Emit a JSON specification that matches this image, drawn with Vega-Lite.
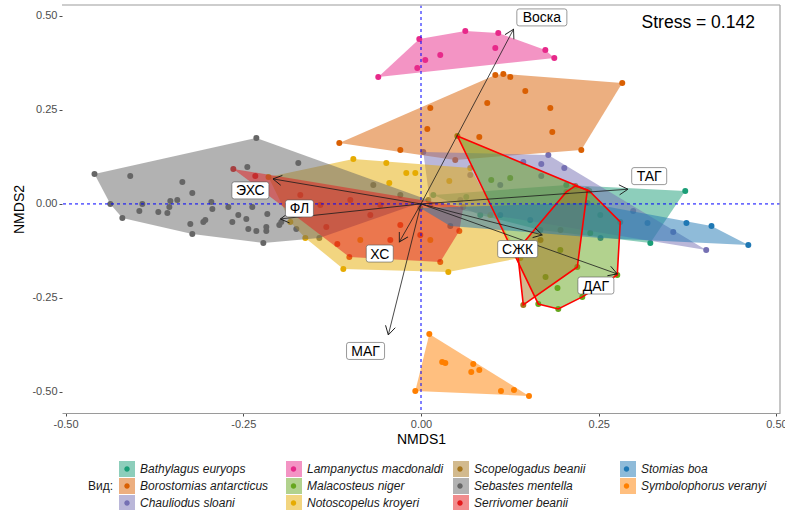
{
  "$schema": "https://vega.github.io/schema/vega-lite/v6.json",
  "width": 718,
  "height": 408,
  "autosize": {"type": "none"},
  "padding": {"left": 62, "top": 5, "right": 5, "bottom": 97},
  "background": "white",
  "config": {
    "view": {"stroke": null},
    "font": "Liberation Sans",
    "axis": {
      "grid": false,
      "labelFont": "Liberation Sans",
      "labelFontSize": 11,
      "labelColor": "#4d4d4d",
      "tickColor": "#4d4d4d",
      "tickSize": 3,
      "titleFont": "Liberation Sans",
      "titleFontSize": 14,
      "titleFontWeight": "normal",
      "titleColor": "#000000"
    }
  },
  "datasets": {
    "pts": [
      {"sp": "Bathylagus euryops", "x": 0.3717, "y": 0.0346, "h": 3},
      {"sp": "Bathylagus euryops", "x": 0.3226, "y": -0.1037, "h": 4},
      {"sp": "Bathylagus euryops", "x": 0.2044, "y": 0.0505, "h": 2},
      {"sp": "Bathylagus euryops", "x": 0.0173, "y": 0.0239, "h": 1},
      {"sp": "Bathylagus euryops", "x": 0.0637, "y": 0.0186},
      {"sp": "Bathylagus euryops", "x": 0.1678, "y": -0.0691, "h": 5},
      {"sp": "Bathylagus euryops", "x": 0.2522, "y": -0.0293},
      {"sp": "Bathylagus euryops", "x": 0.0834, "y": -0.0293, "h": 6},

      {"sp": "Borostomias antarcticus", "x": -0.1149, "y": 0.1622, "h": 1},
      {"sp": "Borostomias antarcticus", "x": 0.1045, "y": 0.3431, "h": 2},
      {"sp": "Borostomias antarcticus", "x": 0.1158, "y": 0.3457, "h": 3},
      {"sp": "Borostomias antarcticus", "x": 0.1256, "y": 0.3378},
      {"sp": "Borostomias antarcticus", "x": 0.2831, "y": 0.3218, "h": 4},
      {"sp": "Borostomias antarcticus", "x": 0.2255, "y": 0.1436, "h": 5},
      {"sp": "Borostomias antarcticus", "x": 0.0131, "y": 0.2553},
      {"sp": "Borostomias antarcticus", "x": 0.0932, "y": 0.2686},
      {"sp": "Borostomias antarcticus", "x": 0.1467, "y": 0.3005},
      {"sp": "Borostomias antarcticus", "x": 0.1819, "y": 0.2553},
      {"sp": "Borostomias antarcticus", "x": 0.1847, "y": 0.1915},
      {"sp": "Borostomias antarcticus", "x": 0.0089, "y": 0.1995},
      {"sp": "Borostomias antarcticus", "x": 0.0820, "y": 0.1782},
      {"sp": "Borostomias antarcticus", "x": 0.0482, "y": 0.1170, "h": 6},
      {"sp": "Borostomias antarcticus", "x": -0.0291, "y": 0.1436},

      {"sp": "Chauliodus sloani", "x": 0.0032, "y": 0.1383, "h": 1},
      {"sp": "Chauliodus sloani", "x": 0.1791, "y": 0.1303, "h": 2},
      {"sp": "Chauliodus sloani", "x": 0.1439, "y": 0.1117},
      {"sp": "Chauliodus sloani", "x": 0.1692, "y": 0.1064},
      {"sp": "Chauliodus sloani", "x": 0.2016, "y": 0.0957},
      {"sp": "Chauliodus sloani", "x": 0.1692, "y": 0.0745},
      {"sp": "Chauliodus sloani", "x": 0.2985, "y": -0.0186},
      {"sp": "Chauliodus sloani", "x": 0.3548, "y": -0.0745},
      {"sp": "Chauliodus sloani", "x": 0.4012, "y": -0.1223, "h": 3},
      {"sp": "Chauliodus sloani", "x": 0.0553, "y": 0.0106},
      {"sp": "Chauliodus sloani", "x": 0.0131, "y": -0.0027, "h": 4},
      {"sp": "Chauliodus sloani", "x": 0.1115, "y": 0.0505},
      {"sp": "Chauliodus sloani", "x": 0.0693, "y": 0.0771},

      {"sp": "Lampanyctus macdonaldi", "x": -0.0601, "y": 0.3378, "h": 1},
      {"sp": "Lampanyctus macdonaldi", "x": -0.0024, "y": 0.4388, "h": 2},
      {"sp": "Lampanyctus macdonaldi", "x": 0.0623, "y": 0.4601, "h": 3},
      {"sp": "Lampanyctus macdonaldi", "x": 0.1087, "y": 0.4548, "h": 4},
      {"sp": "Lampanyctus macdonaldi", "x": 0.1045, "y": 0.4149},
      {"sp": "Lampanyctus macdonaldi", "x": 0.1749, "y": 0.4096, "h": 5},
      {"sp": "Lampanyctus macdonaldi", "x": 0.1875, "y": 0.3883, "h": 6},
      {"sp": "Lampanyctus macdonaldi", "x": 0.0060, "y": 0.3830},
      {"sp": "Lampanyctus macdonaldi", "x": -0.0052, "y": 0.3617},
      {"sp": "Lampanyctus macdonaldi", "x": 0.0271, "y": 0.3963},

      {"sp": "Malacosteus niger", "x": 0.0511, "y": 0.1809, "h": 1},
      {"sp": "Malacosteus niger", "x": 0.2367, "y": 0.0346, "h": 2},
      {"sp": "Malacosteus niger", "x": 0.2803, "y": -0.0479, "h": 3},
      {"sp": "Malacosteus niger", "x": 0.2761, "y": -0.1888, "h": 4},
      {"sp": "Malacosteus niger", "x": 0.2269, "y": -0.2473, "h": 5},
      {"sp": "Malacosteus niger", "x": 0.1931, "y": -0.2793, "h": 6},
      {"sp": "Malacosteus niger", "x": 0.1650, "y": -0.2660, "h": 7},
      {"sp": "Malacosteus niger", "x": 0.2381, "y": -0.0771},
      {"sp": "Malacosteus niger", "x": 0.1752, "y": -0.1941},
      {"sp": "Malacosteus niger", "x": 0.1920, "y": -0.2234},
      {"sp": "Malacosteus niger", "x": 0.0988, "y": 0.0638},
      {"sp": "Malacosteus niger", "x": 0.1255, "y": 0.0691},
      {"sp": "Malacosteus niger", "x": 0.1960, "y": -0.1223},

      {"sp": "Notoscopelus kroyeri", "x": -0.2145, "y": 0.0718, "h": 1},
      {"sp": "Notoscopelus kroyeri", "x": -0.0952, "y": 0.1197, "h": 2},
      {"sp": "Notoscopelus kroyeri", "x": 0.0693, "y": 0.0957, "h": 3},
      {"sp": "Notoscopelus kroyeri", "x": 0.1397, "y": -0.1436, "h": 4},
      {"sp": "Notoscopelus kroyeri", "x": 0.0384, "y": -0.1809, "h": 5},
      {"sp": "Notoscopelus kroyeri", "x": -0.1093, "y": -0.1729, "h": 6},
      {"sp": "Notoscopelus kroyeri", "x": -0.1627, "y": -0.0904, "h": 7},
      {"sp": "Notoscopelus kroyeri", "x": -0.1838, "y": -0.0479, "h": 8},
      {"sp": "Notoscopelus kroyeri", "x": -0.0207, "y": 0.0824},
      {"sp": "Notoscopelus kroyeri", "x": -0.0080, "y": 0.0824},
      {"sp": "Notoscopelus kroyeri", "x": 0.0398, "y": 0.0612},
      {"sp": "Notoscopelus kroyeri", "x": -0.0488, "y": 0.1090},
      {"sp": "Notoscopelus kroyeri", "x": -0.0446, "y": 0.0559},
      {"sp": "Notoscopelus kroyeri", "x": 0.0975, "y": -0.0293},
      {"sp": "Notoscopelus kroyeri", "x": -0.0854, "y": -0.0957},
      {"sp": "Notoscopelus kroyeri", "x": 0.0131, "y": -0.0957},

      {"sp": "Scopelogadus beanii", "x": 0.1355, "y": -0.1223, "h": 1},
      {"sp": "Scopelogadus beanii", "x": 0.2045, "y": 0.0319, "h": 2},
      {"sp": "Scopelogadus beanii", "x": 0.2171, "y": 0.0479, "h": 3},
      {"sp": "Scopelogadus beanii", "x": 0.2340, "y": 0.0372, "h": 4},
      {"sp": "Scopelogadus beanii", "x": 0.2199, "y": -0.1676, "h": 5},
      {"sp": "Scopelogadus beanii", "x": 0.1439, "y": -0.2686, "h": 6},
      {"sp": "Scopelogadus beanii", "x": 0.1681, "y": -0.0957},
      {"sp": "Scopelogadus beanii", "x": 0.1962, "y": -0.0691},

      {"sp": "Sebastes mentella", "x": -0.4593, "y": 0.0798, "h": 1},
      {"sp": "Sebastes mentella", "x": -0.4090, "y": 0.0745},
      {"sp": "Sebastes mentella", "x": -0.3357, "y": 0.0585},
      {"sp": "Sebastes mentella", "x": -0.3217, "y": 0.0293},
      {"sp": "Sebastes mentella", "x": -0.4370, "y": 0.0000, "h": 8},
      {"sp": "Sebastes mentella", "x": -0.3920, "y": 0.0000},
      {"sp": "Sebastes mentella", "x": -0.3962, "y": -0.0186},
      {"sp": "Sebastes mentella", "x": -0.4201, "y": -0.0372, "h": 7},
      {"sp": "Sebastes mentella", "x": -0.3695, "y": -0.0213},
      {"sp": "Sebastes mentella", "x": -0.3568, "y": -0.0239},
      {"sp": "Sebastes mentella", "x": -0.3526, "y": 0.0080},
      {"sp": "Sebastes mentella", "x": -0.3428, "y": 0.0106},
      {"sp": "Sebastes mentella", "x": -0.3540, "y": -0.0080},
      {"sp": "Sebastes mentella", "x": -0.2949, "y": 0.0053},
      {"sp": "Sebastes mentella", "x": -0.2935, "y": -0.0133},
      {"sp": "Sebastes mentella", "x": -0.2710, "y": -0.0080},
      {"sp": "Sebastes mentella", "x": -0.2570, "y": -0.0293},
      {"sp": "Sebastes mentella", "x": -0.2654, "y": -0.0479},
      {"sp": "Sebastes mentella", "x": -0.2457, "y": -0.0399},
      {"sp": "Sebastes mentella", "x": -0.2373, "y": -0.0080},
      {"sp": "Sebastes mentella", "x": -0.2162, "y": -0.0266},
      {"sp": "Sebastes mentella", "x": -0.3245, "y": -0.0532},
      {"sp": "Sebastes mentella", "x": -0.3217, "y": -0.0798, "h": 6},
      {"sp": "Sebastes mentella", "x": -0.3062, "y": -0.0479},
      {"sp": "Sebastes mentella", "x": -0.3034, "y": -0.0426},
      {"sp": "Sebastes mentella", "x": -0.2429, "y": -0.0665},
      {"sp": "Sebastes mentella", "x": -0.2316, "y": -0.0718},
      {"sp": "Sebastes mentella", "x": -0.2176, "y": -0.0612},
      {"sp": "Sebastes mentella", "x": -0.2176, "y": -0.0718},
      {"sp": "Sebastes mentella", "x": -0.1993, "y": -0.0559},
      {"sp": "Sebastes mentella", "x": -0.1965, "y": -0.0479},
      {"sp": "Sebastes mentella", "x": -0.1754, "y": -0.0665},
      {"sp": "Sebastes mentella", "x": -0.2218, "y": -0.1037, "h": 5},
      {"sp": "Sebastes mentella", "x": -0.2443, "y": 0.0984},
      {"sp": "Sebastes mentella", "x": -0.1726, "y": 0.1090},
      {"sp": "Sebastes mentella", "x": -0.2316, "y": 0.1755, "h": 2},
      {"sp": "Sebastes mentella", "x": -0.1430, "y": -0.0904, "h": 4},
      {"sp": "Sebastes mentella", "x": -0.0671, "y": 0.0505},
      {"sp": "Sebastes mentella", "x": 0.0103, "y": 0.0106, "h": 3},
      {"sp": "Sebastes mentella", "x": -0.0291, "y": 0.0239},

      {"sp": "Serrivomer beanii", "x": -0.2640, "y": 0.0931, "h": 1},
      {"sp": "Serrivomer beanii", "x": -0.2331, "y": 0.0745},
      {"sp": "Serrivomer beanii", "x": -0.1008, "y": -0.1410, "h": 5},
      {"sp": "Serrivomer beanii", "x": -0.1177, "y": -0.1064},
      {"sp": "Serrivomer beanii", "x": -0.1332, "y": -0.0612},
      {"sp": "Serrivomer beanii", "x": 0.0539, "y": -0.0718, "h": 3},
      {"sp": "Serrivomer beanii", "x": 0.0595, "y": -0.0080, "h": 2},
      {"sp": "Serrivomer beanii", "x": 0.0271, "y": -0.1543, "h": 4},
      {"sp": "Serrivomer beanii", "x": -0.1698, "y": 0.0239},
      {"sp": "Serrivomer beanii", "x": -0.1416, "y": -0.0027},
      {"sp": "Serrivomer beanii", "x": -0.0994, "y": 0.0106},
      {"sp": "Serrivomer beanii", "x": -0.0572, "y": -0.0027},
      {"sp": "Serrivomer beanii", "x": -0.0291, "y": -0.0559},
      {"sp": "Serrivomer beanii", "x": -0.0010, "y": -0.0824},
      {"sp": "Serrivomer beanii", "x": -0.0713, "y": -0.0293},
      {"sp": "Serrivomer beanii", "x": -0.0432, "y": -0.0957},

      {"sp": "Stomias boa", "x": 0.4604, "y": -0.1090, "h": 4},
      {"sp": "Stomias boa", "x": 0.4086, "y": -0.0585, "h": 3},
      {"sp": "Stomias boa", "x": 0.3734, "y": -0.0505},
      {"sp": "Stomias boa", "x": 0.3186, "y": -0.0505},
      {"sp": "Stomias boa", "x": 0.2525, "y": -0.0904, "h": 5},
      {"sp": "Stomias boa", "x": 0.2342, "y": 0.0027, "h": 2},
      {"sp": "Stomias boa", "x": -0.0010, "y": -0.0106, "h": 1},
      {"sp": "Stomias boa", "x": 0.0412, "y": -0.0585, "h": 6},
      {"sp": "Stomias boa", "x": 0.1115, "y": -0.0293},
      {"sp": "Stomias boa", "x": 0.1537, "y": -0.0426},

      {"sp": "Symbolophorus veranyi", "x": 0.0117, "y": -0.3457, "h": 1},
      {"sp": "Symbolophorus veranyi", "x": 0.0298, "y": -0.4202},
      {"sp": "Symbolophorus veranyi", "x": 0.0342, "y": -0.4229},
      {"sp": "Symbolophorus veranyi", "x": 0.0735, "y": -0.4255},
      {"sp": "Symbolophorus veranyi", "x": 0.0707, "y": -0.4468},
      {"sp": "Symbolophorus veranyi", "x": 0.0820, "y": -0.4415},
      {"sp": "Symbolophorus veranyi", "x": -0.0080, "y": -0.4973, "h": 3},
      {"sp": "Symbolophorus veranyi", "x": 0.1125, "y": -0.4973},
      {"sp": "Symbolophorus veranyi", "x": 0.1308, "y": -0.4947},
      {"sp": "Symbolophorus veranyi", "x": 0.1519, "y": -0.5106, "h": 2}
    ],
    "vec": [
      {"lab": "Воска", "x": 0.1302, "y": 0.4646, "lx": 0.170, "ly": 0.496},
      {"lab": "ТАГ", "x": 0.2911, "y": 0.0391, "lx": 0.321, "ly": 0.074},
      {"lab": "ЭХС", "x": -0.2082, "y": 0.0665, "lx": -0.240, "ly": 0.036},
      {"lab": "ФЛ", "x": -0.1978, "y": -0.0399, "lx": -0.171, "ly": -0.012},
      {"lab": "ХС", "x": -0.0305, "y": -0.1011, "lx": -0.058, "ly": -0.132},
      {"lab": "МАГ", "x": -0.0460, "y": -0.3484, "lx": -0.078, "ly": -0.391},
      {"lab": "СЖК", "x": 0.1706, "y": -0.0824, "lx": 0.136, "ly": -0.120},
      {"lab": "ДАГ", "x": 0.2761, "y": -0.1862, "lx": 0.246, "ly": -0.217}
    ],
    "ref": [{"v": 0, "top": 0.529, "right": 0.505, "sx": 0.39, "sy": 0.481, "t": "Stress = 0.142"}]
  },
  "layer": [
    {
      "description": "site scores, one dot per sample",
      "data": {"name": "pts"},
      "mark": {"type": "point", "filled": true, "size": 36, "opacity": 1},
      "encoding": {
        "x": {
          "field": "x", "type": "quantitative", "title": "NMDS1",
          "scale": {"domain": [-0.505, 0.505], "nice": false, "zero": false},
          "axis": {
            "values": [-0.5, -0.25, 0, 0.25, 0.5],
            "labelExpr": "replace(format(datum.value, '.2f'), '\u2212', '-')",
            "labelFlush": false,
            "labelOverlap": false,
            "domain": true,
            "domainColor": "#9a9a9a",
            "domainWidth": 1.2,
            "labelPadding": 2,
            "titlePadding": 3
          }
        },
        "y": {
          "field": "y", "type": "quantitative", "title": "NMDS2",
          "scale": {"domain": [-0.556, 0.529], "nice": false, "zero": false},
          "axis": {
            "values": [-0.5, -0.25, 0, 0.25, 0.5],
            "labelExpr": "replace(format(datum.value, '.2f'), '\u2212', '-')",
            "labelOverlap": false,
            "domain": false,
            "labelPadding": 2,
            "titlePadding": 5
          }
        },
        "color": {
          "field": "sp", "type": "nominal",
          "scale": {
            "domain": ["Symbolophorus veranyi", "Stomias boa", "Serrivomer beanii", "Sebastes mentella", "Scopelogadus beanii", "Notoscopelus kroyeri", "Malacosteus niger", "Lampanyctus macdonaldi", "Chauliodus sloani", "Borostomias antarcticus", "Bathylagus euryops"],
            "range": ["#FF7F00", "#1F78B4", "#E41A1C", "#666666", "#A6761D", "#E6AB02", "#66A61E", "#E7298A", "#7570B3", "#D95F02", "#1B9E77"]
          },
          "legend": {
            "values": ["Bathylagus euryops", "Borostomias antarcticus", "Chauliodus sloani", "Lampanyctus macdonaldi", "Malacosteus niger", "Notoscopelus kroyeri", "Scopelogadus beanii", "Sebastes mentella", "Serrivomer beanii", "Stomias boa", "Symbolophorus veranyi"],
            "title": null,
            "orient": "none",
            "legendX": 57,
            "legendY": 456,
            "columns": 4,
            "gridAlign": "all",
            "columnPadding": 145.5,
            "rowPadding": 1,
            "labelExpr": "''",
            "labelFontSize": 12,
            "labelOffset": 5,
            "symbolType": "M-1,-1M1,1M0.34,0A0.34,0.34 0 1,1 -0.34,0A0.34,0.34 0 1,1 0.34,0Z",
            "symbolSize": 256,
            "symbolOpacity": 1,
            "symbolStrokeWidth": 0
          }
        }
      }
    },
    {
      "description": "convex hull of each species",
      "data": {"name": "pts"},
      "transform": [{"filter": "isValid(datum.h)"}],
      "mark": {"type": "line", "interpolate": "linear-closed", "fillOpacity": 0.5, "strokeWidth": 0, "stroke": "transparent"},
      "encoding": {
        "x": {"field": "x", "type": "quantitative", "title": "NMDS1"},
        "y": {"field": "y", "type": "quantitative", "title": "NMDS2"},
        "order": {"field": "h", "type": "quantitative"},
        "fill": {
          "field": "sp", "type": "nominal",
          "scale": {
            "domain": ["Bathylagus euryops", "Borostomias antarcticus", "Chauliodus sloani", "Lampanyctus macdonaldi", "Malacosteus niger", "Notoscopelus kroyeri", "Scopelogadus beanii", "Sebastes mentella", "Serrivomer beanii", "Stomias boa", "Symbolophorus veranyi"],
            "range": ["#1B9E77", "#D95F02", "#7570B3", "#E7298A", "#66A61E", "#E6AB02", "#A6761D", "#666666", "#E41A1C", "#1F78B4", "#FF7F00"]
          },
          "legend": {
            "title": "Вид:",
            "orient": "none",
            "legendX": 26,
            "legendY": 456,
            "columns": 4,
            "gridAlign": "all",
            "columnPadding": 9,
            "rowPadding": 1,
            "titleOrient": "left",
            "titleAnchor": "middle",
            "titleBaseline": "middle",
            "titleFontSize": 12,
            "titleFontWeight": "normal",
            "titleColor": "#1a1a1a",
            "titlePadding": 5,
            "labelFontSize": 12,
            "labelFontStyle": "italic",
            "labelColor": "#1a1a1a",
            "labelOffset": 5,
            "symbolType": "square",
            "symbolSize": 256,
            "symbolOpacity": 0.5,
            "symbolStrokeWidth": 0
          }
        }
      }
    },
    {
      "description": "red outline of two of the hulls",
      "data": {"name": "pts"},
      "transform": [{"filter": "isValid(datum.h) && (datum.sp === 'Malacosteus niger' || datum.sp === 'Scopelogadus beanii')"}],
      "mark": {"type": "line", "interpolate": "linear-closed", "stroke": "#ff0000", "strokeWidth": 1.6},
      "encoding": {
        "x": {"field": "x", "type": "quantitative", "title": "NMDS1"},
        "y": {"field": "y", "type": "quantitative", "title": "NMDS2"},
        "order": {"field": "h", "type": "quantitative"},
        "detail": {"field": "sp", "type": "nominal"}
      }
    },
    {
      "description": "dashed zero lines",
      "data": {"name": "ref"},
      "mark": {"type": "rule", "color": "#0000ff", "strokeDash": [3, 3], "strokeWidth": 1},
      "encoding": {"y": {"field": "v", "type": "quantitative", "title": "NMDS2"}}
    },
    {
      "data": {"name": "ref"},
      "mark": {"type": "rule", "color": "#0000ff", "strokeDash": [3, 3], "strokeWidth": 1},
      "encoding": {"x": {"field": "v", "type": "quantitative", "title": "NMDS1"}}
    },
    {
      "description": "fitted environmental vectors",
      "data": {"name": "vec"},
      "mark": {"type": "rule", "color": "#1a1a1a", "strokeWidth": 0.8},
      "encoding": {
        "x": {"field": "x", "type": "quantitative", "title": "NMDS1"},
        "y": {"field": "y", "type": "quantitative", "title": "NMDS2"},
        "x2": {"datum": 0},
        "y2": {"datum": 0}
      }
    },
    {
      "description": "open arrow heads, turned along each vector",
      "data": {"name": "vec"},
      "transform": [{"calculate": "atan2(-datum.y * 376, datum.x * 711) * 180 / PI", "as": "ang"}],
      "mark": {"type": "point", "shape": "M-0.87,-0.5L0,0L-0.87,0.5", "filled": false, "size": 400, "stroke": "#1a1a1a", "strokeWidth": 0.9, "opacity": 1},
      "encoding": {
        "x": {"field": "x", "type": "quantitative", "title": "NMDS1"},
        "y": {"field": "y", "type": "quantitative", "title": "NMDS2"},
        "angle": {"field": "ang", "type": "quantitative", "scale": null}
      }
    },
    {
      "description": "label boxes",
      "data": {"name": "vec"},
      "mark": {"type": "point", "filled": true, "fill": "white", "stroke": "#555555", "strokeWidth": 0.6, "size": 2704, "opacity": 1},
      "encoding": {
        "x": {"field": "lx", "type": "quantitative", "title": "NMDS1"},
        "y": {"field": "ly", "type": "quantitative", "title": "NMDS2"},
        "shape": {
          "field": "lab", "type": "nominal", "legend": null,
          "scale": {
            "domain": ["Воска", "ТАГ", "ЭХС", "ФЛ", "ХС", "МАГ", "СЖК", "ДАГ"],
            "range": [
              "M-0.872,-0.327H0.872Q0.962,-0.327 0.962,-0.237V0.237Q0.962,0.327 0.872,0.327H-0.872Q-0.962,0.327 -0.962,0.237V-0.237Q-0.962,-0.327 -0.872,-0.327Z",
              "M-0.583,-0.327H0.583Q0.673,-0.327 0.673,-0.237V0.237Q0.673,0.327 0.583,0.327H-0.583Q-0.673,0.327 -0.673,0.237V-0.237Q-0.673,-0.327 -0.583,-0.327Z",
              "M-0.622,-0.327H0.622Q0.712,-0.327 0.712,-0.237V0.237Q0.712,0.327 0.622,0.327H-0.622Q-0.712,0.327 -0.712,0.237V-0.237Q-0.712,-0.327 -0.622,-0.327Z",
              "M-0.448,-0.327H0.448Q0.538,-0.327 0.538,-0.237V0.237Q0.538,0.327 0.448,0.327H-0.448Q-0.538,0.327 -0.538,0.237V-0.237Q-0.538,-0.327 -0.448,-0.327Z",
              "M-0.429,-0.327H0.429Q0.519,-0.327 0.519,-0.237V0.237Q0.519,0.327 0.429,0.327H-0.429Q-0.519,0.327 -0.519,0.237V-0.237Q-0.519,-0.327 -0.429,-0.327Z",
              "M-0.641,-0.327H0.641Q0.731,-0.327 0.731,-0.237V0.237Q0.731,0.327 0.641,0.327H-0.641Q-0.731,0.327 -0.731,0.237V-0.237Q-0.731,-0.327 -0.641,-0.327Z",
              "M-0.679,-0.327H0.679Q0.769,-0.327 0.769,-0.237V0.237Q0.769,0.327 0.679,0.327H-0.679Q-0.769,0.327 -0.769,0.237V-0.237Q-0.769,-0.327 -0.679,-0.327Z",
              "M-0.602,-0.327H0.602Q0.692,-0.327 0.692,-0.237V0.237Q0.692,0.327 0.602,0.327H-0.602Q-0.692,0.327 -0.692,0.237V-0.237Q-0.692,-0.327 -0.602,-0.327Z"
            ]
          }
        }
      }
    },
    {
      "description": "vector names",
      "data": {"name": "vec"},
      "mark": {"type": "text", "font": "Liberation Sans", "fontSize": 14, "color": "#000000", "align": "center", "baseline": "middle", "dy": 1},
      "encoding": {
        "x": {"field": "lx", "type": "quantitative", "title": "NMDS1"},
        "y": {"field": "ly", "type": "quantitative", "title": "NMDS2"},
        "text": {"field": "lab"}
      }
    },
    {
      "description": "ordination stress",
      "data": {"name": "ref"},
      "mark": {"type": "text", "font": "Liberation Sans", "fontSize": 17.5, "color": "#000000", "align": "center", "baseline": "middle"},
      "encoding": {
        "x": {"field": "sx", "type": "quantitative", "title": "NMDS1"},
        "y": {"field": "sy", "type": "quantitative", "title": "NMDS2"},
        "text": {"field": "t"}
      }
    },
    {
      "description": "panel frame, top and right",
      "data": {"name": "ref"},
      "mark": {"type": "rule", "color": "#bdbdbd", "strokeWidth": 1.6},
      "encoding": {"y": {"field": "top", "type": "quantitative", "title": "NMDS2"}}
    },
    {
      "data": {"name": "ref"},
      "mark": {"type": "rule", "color": "#a8a8a8", "strokeWidth": 1.3},
      "encoding": {"x": {"field": "right", "type": "quantitative", "title": "NMDS1"}}
    }
  ]
}
